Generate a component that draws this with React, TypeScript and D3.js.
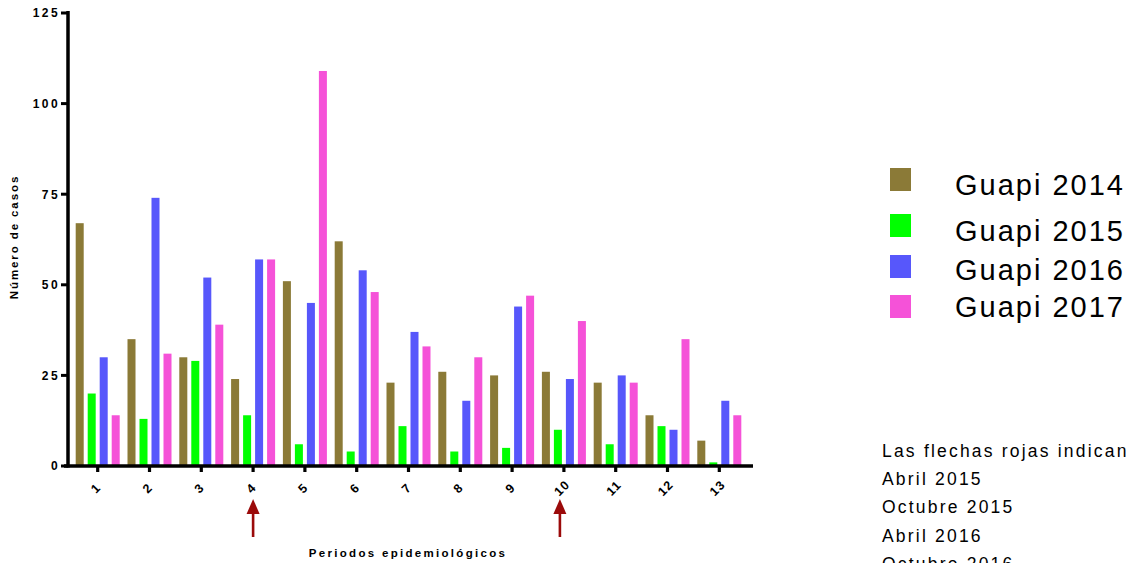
import React from "react";
import * as d3 from "d3";

// Epidemiological periods (x categories)
const periods = ["1", "2", "3", "4", "5", "6", "7", "8", "9", "10", "11", "12", "13"];

// Cases per period, one array per year
const guapi2014 = [67, 35, 30, 24, 51, 62, 23, 26, 25, 26, 23, 14, 7];
const guapi2015 = [20, 13, 29, 14, 6, 4, 11, 4, 5, 10, 6, 11, 1];
const guapi2016 = [30, 74, 52, 57, 45, 54, 37, 18, 44, 24, 25, 10, 18];
const guapi2017 = [14, 31, 39, 57, 109, 48, 33, 30, 47, 40, 23, 35, 14];

const seriesNames = ["Guapi 2014", "Guapi 2015", "Guapi 2016", "Guapi 2017"];
const seriesColors = ["#8b7a37", "#00ff00", "#5757fb", "#f552d8"];
const seriesValues = [guapi2014, guapi2015, guapi2016, guapi2017];

const yTicks = [0, 25, 50, 75, 100, 125];

// Periods marked with a red arrow
const arrowPeriods = ["4", "10"];

const noteLines = [
  "Las flechas rojas indican",
  "Abril 2015",
  "Octubre 2015",
  "Abril 2016",
  "Octubre 2016",
];

const W = 1131;
const H = 563;
const FONT = "'Liberation Sans', Arial, sans-serif";

export default function App() {
  const x0 = d3.scaleBand<string>().domain(periods).range([71.8, 745.2]).paddingInner(0).paddingOuter(0);
  const x1 = d3
    .scaleBand<string>()
    .domain(seriesNames)
    .range([0, x0.bandwidth()])
    .paddingInner(0.333)
    .paddingOuter(0.325);
  const y = d3.scaleLinear().domain([0, 125]).range([466, 13]);

  const axisX = 68;
  const baseY = y(0);

  return (
    <svg
      width={W}
      height={H}
      style={{ position: "absolute", left: 0, top: 0, background: "#fff", fontFamily: FONT }}
    >
      {/* bars */}
      {periods.map((p, i) => (
        <g key={p} transform={`translate(${x0(p)},0)`}>
          {seriesNames.map((s, k) => {
            const v = seriesValues[k][i];
            return (
              <rect
                key={s}
                x={x1(s)}
                y={y(v)}
                width={x1.bandwidth()}
                height={baseY - y(v)}
                fill={seriesColors[k]}
              />
            );
          })}
        </g>
      ))}

      {/* y axis */}
      <line x1={axisX} x2={axisX} y1={11} y2={baseY + 1.5} stroke="#000" strokeWidth={3.5} />
      {yTicks.map((t) => (
        <g key={t}>
          <line x1={axisX - 7} x2={axisX} y1={y(t)} y2={y(t)} stroke="#000" strokeWidth={3} />
          <text
            x={60}
            y={y(t)}
            dy="0.36em"
            textAnchor="end"
            fontSize={12}
            fontWeight="bold"
            letterSpacing={2.4}
          >
            {t}
          </text>
        </g>
      ))}
      <text
        transform={`translate(18,237) rotate(-90)`}
        textAnchor="middle"
        fontSize={11.5}
        fontWeight="bold"
        letterSpacing={1.9}
      >
        Número de casos
      </text>

      {/* x axis */}
      <line x1={64} x2={753} y1={baseY} y2={baseY} stroke="#000" strokeWidth={3.5} />
      {periods.map((p) => {
        const cx = (x0(p) as number) + x0.bandwidth() / 2;
        return (
          <g key={p}>
            <line x1={cx} x2={cx} y1={baseY} y2={baseY + 6} stroke="#000" strokeWidth={3.2} />
            <text
              transform={`translate(${cx - 2},${488}) rotate(-45)`}
              textAnchor="middle"
              dy="0.35em"
              fontSize={12.5}
              fontWeight="bold"
              letterSpacing={1}
            >
              {p}
            </text>
          </g>
        );
      })}
      <text x={408} y={557} textAnchor="middle" fontSize={11.5} fontWeight="bold" letterSpacing={2.3}>
        Periodos epidemiológicos
      </text>

      {/* red arrows */}
      {arrowPeriods.map((p) => {
        const cx = (x0(p) as number) + x0.bandwidth() / 2 - (p === "10" ? 4 : 0);
        return (
          <g key={p} fill="#9b0a0a" stroke="none">
            <rect x={cx - 1.3} y={512} width={2.6} height={25} />
            <path d={`M${cx},499 L${cx - 6.5},514 L${cx + 6.5},514 Z`} />
          </g>
        );
      })}

      {/* legend */}
      {seriesNames.map((s, k) => {
        const boxY = [168, 214, 255, 295][k];
        const textY = [195, 241, 280, 317][k];
        return (
          <g key={s}>
            <rect x={890} y={boxY} width={21} height={23} fill={seriesColors[k]} />
            <text x={955} y={textY} fontSize={29} letterSpacing={2} fill="#000">
              {s}
            </text>
          </g>
        );
      })}

      {/* note */}
      {noteLines.map((line, i) => (
        <text key={i} x={882} y={456.5 + i * 28.4} fontSize={17.5} letterSpacing={2.2} fill="#000">
          {line}
        </text>
      ))}
    </svg>
  );
}
